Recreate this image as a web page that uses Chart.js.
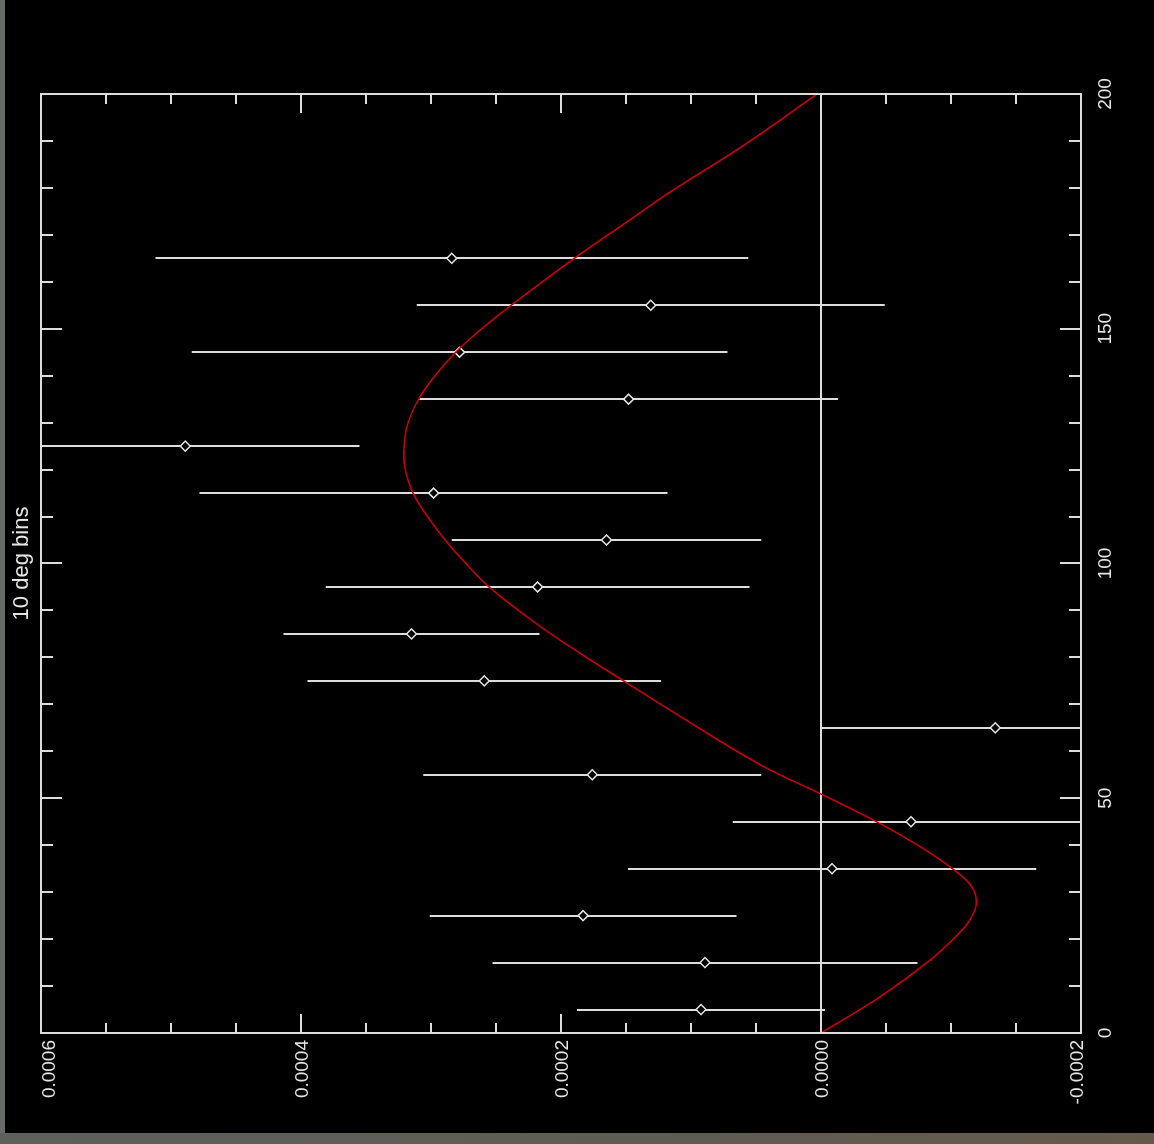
<!DOCTYPE html>
<html><head><meta charset="utf-8">
<script src="https://cdn.jsdelivr.net/npm/chart.js@4.4.1/dist/chart.umd.min.js"></script>
<style>
html,body{margin:0;padding:0;background:#000;width:1154px;height:1144px;overflow:hidden;position:relative}
#wrap{position:absolute;left:5px;top:-5px;width:1144px;height:1154px;transform:rotate(-90deg);}
#left{position:absolute;left:0;top:0;width:5px;height:1144px;background:#676a66}
#bottom{position:absolute;left:0;top:1133px;width:1154px;height:11px;background:linear-gradient(to right,#5e605c,#5f5c54 60%,#655a4a)}
</style></head><body>
<div id="wrap"><canvas id="c" width="1144" height="1154"></canvas></div>
<div id="left"></div><div id="bottom"></div>
<script>
// data points (angle bins, measured value, error)
const angles = [5,15,25,35,45,55,65,75,85,95,105,115,125,135,145,155,165];
const values = [0.0000923,0.0000892,0.000183,-0.0000085,-0.0000692,0.000176,-0.000134,0.000259,0.000315,0.000218,0.000165,0.000298,0.000489,0.000148,0.000278,0.000131,0.000284];
const errors = [0.0000954,0.0001635,0.000118,0.000157,0.000137,0.00013,0.000134,0.000136,0.0000985,0.000163,0.000119,0.00018,0.000134,0.000161,0.000206,0.00018,0.000228];
// fitted curve
const curveAngles = [0,7.7,15.5,21.2,24.1,27.6,31.2,35.1,39.7,45.0,50.9,57.1,67.9,75.2,80.2,86.5,94.7,100.4,104.3,109.3,114.9,120.3,124.5,128.4,132.0,135.5,139.1,145,149.7,154.8,165.1,173.2,179.1,189.0,200];
const curveValues = [0,-0.0000454,-0.0000838,-0.000106,-0.0001145,-0.0001195,-0.0001159,-0.0001005,-0.0000762,-0.0000428,0,0.0000465,0.000111,0.000153,0.0001815,0.0002155,0.000254,0.0002745,0.000287,0.0003008,0.0003136,0.00032,0.0003208,0.0003192,0.0003149,0.0003085,0.0002995,0.000281,0.0002623,0.0002392,0.0001892,0.0001469,0.0001162,0.0000598,0.000003];
// axes
const angleTicks = [0,50,100,150,200];
const angleTickLabels = ['0','50','100','150','200'];
const valueTicks = [0.0006,0.0004,0.0002,0,-0.0002];
const valueTickLabels = ['0.0006','0.0004','0.0002','0.0000','-0.0002'];
const angleMinorStep = 10;
const valueMinorStep = 0.00005;
const titleText = '10 deg bins';

const FG = '#dcdcdc';
const deco = {
  id:'deco',
  beforeDatasetsDraw(chart){
    const {ctx, chartArea:a, scales:{x,y}} = chart;
    ctx.save();
    ctx.beginPath(); ctx.rect(a.left,a.top,a.right-a.left,a.bottom-a.top); ctx.clip();
    ctx.strokeStyle = FG; ctx.lineWidth = 2;
    const y0 = Math.round(y.getPixelForValue(0));
    ctx.beginPath(); ctx.moveTo(a.left,y0); ctx.lineTo(a.right,y0); ctx.stroke();
    angles.forEach((ang,i)=>{
      const px = Math.round(x.getPixelForValue(ang));
      ctx.beginPath();
      ctx.moveTo(px, y.getPixelForValue(values[i]-errors[i]));
      ctx.lineTo(px, y.getPixelForValue(values[i]+errors[i]));
      ctx.stroke();
    });
    ctx.restore();
  },
  afterDraw(chart){
    const {ctx, chartArea:a, scales:{x,y}} = chart;
    ctx.save();
    ctx.strokeStyle = FG; ctx.lineWidth = 2;
    ctx.strokeRect(a.left,a.top,a.right-a.left,a.bottom-a.top);
    const nA = Math.round((x.max-x.min)/angleMinorStep);
    for(let k=1;k<nA;k++){
      const v = x.min + k*angleMinorStep;
      const px = Math.round(x.getPixelForValue(v));
      const len = (v%50===0)?21:12;
      ctx.beginPath();
      ctx.moveTo(px,a.bottom); ctx.lineTo(px,a.bottom-len);
      ctx.moveTo(px,a.top); ctx.lineTo(px,a.top+len);
      ctx.stroke();
    }
    const nV = Math.round((y.max-y.min)/valueMinorStep);
    for(let k=1;k<nV;k++){
      const v = y.min + k*valueMinorStep;
      const py = Math.round(y.getPixelForValue(v));
      const len = (k%4===0)?19:10;
      ctx.beginPath();
      ctx.moveTo(a.left,py); ctx.lineTo(a.left+len,py);
      ctx.moveTo(a.right,py); ctx.lineTo(a.right-len,py);
      ctx.stroke();
    }
    ctx.fillStyle = '#e6e6e6';
    ctx.font = '19px "Liberation Sans"';
    ctx.textBaseline = 'alphabetic';
    ctx.textAlign = 'right';
    valueTicks.forEach((v,i)=>{
      const py = y.getPixelForValue(v);
      let base = py + 7;
      if(i===0) base = py + 14;
      if(i===valueTicks.length-1) base = py + 2;
      ctx.fillText(valueTickLabels[i], a.left-7, base);
    });
    ctx.textAlign = 'center';
    angleTicks.forEach((v,i)=>{
      ctx.fillText(angleTickLabels[i], x.getPixelForValue(v), a.bottom+30);
    });
    ctx.font = '22px "Liberation Sans"';
    ctx.fillText(titleText, (a.left+a.right)/2, 28);
    ctx.restore();
  }
};

new Chart(document.getElementById('c'), {
  data:{
    datasets:[
      {type:'line', data:curveAngles.map((a,i)=>({x:a,y:curveValues[i]})), borderColor:'#cc0000', borderWidth:1.6, pointRadius:0, tension:0.4, fill:false, order:0},
      {type:'scatter', data:angles.map((a,i)=>({x:a,y:values[i]})), pointStyle:'rectRot', pointRadius:5, borderColor:'#e6e6e6', backgroundColor:'#000', borderWidth:1.5, order:1}
    ]
  },
  options:{
    responsive:false, animation:false, devicePixelRatio:1,
    layout:{padding:{left:111,right:94,top:41,bottom:73}},
    scales:{
      x:{type:'linear', min:0, max:200, display:false},
      y:{type:'linear', min:-0.0002, max:0.0006, display:false}
    },
    plugins:{legend:{display:false}, tooltip:{enabled:false}}
  },
  plugins:[deco]
});
</script>
</body></html>
